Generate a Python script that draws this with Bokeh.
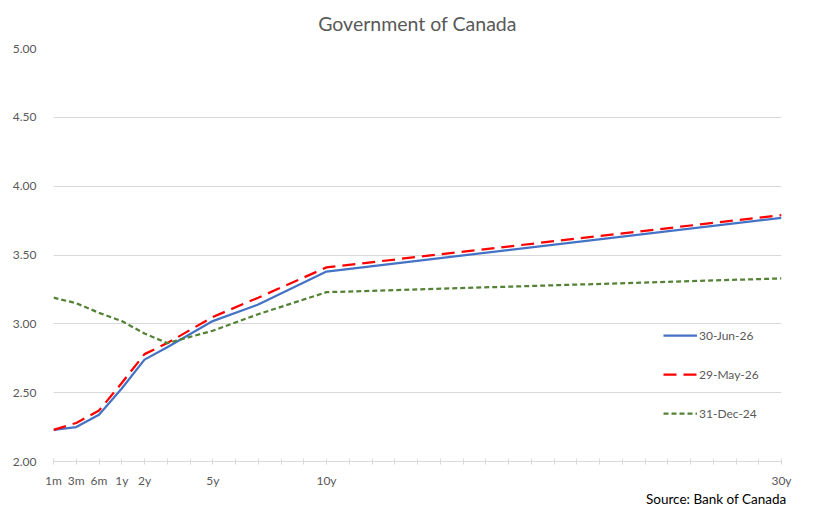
from bokeh.plotting import figure
from bokeh.models import (Range1d, FixedTicker, PrintfTickFormatter, Legend, LegendItem, Title)
from bokeh.embed import file_html
from bokeh.resources import INLINE

# Axis categories (Excel-style category axis: 1m, 3m, 6m, then every year to 30y)
categories = ["1m", "3m", "6m"] + [f"{y}y" for y in range(1, 31)]
shown_labels = ["1m", "3m", "6m", "1y", "2y", "5y", "10y", "30y"]

# Tenors with data
tenors = ["1m", "3m", "6m", "1y", "2y", "3y", "5y", "7y", "10y", "30y"]
jun30_26 = [2.23, 2.25, 2.34, 2.53, 2.74, 2.83, 3.02, 3.14, 3.38, 3.77]
may29_26 = [2.23, 2.28, 2.37, 2.57, 2.78, 2.86, 3.05, 3.19, 3.41, 3.79]
dec31_24 = [3.19, 3.15, 3.08, 3.02, 2.93, 2.86, 2.95, 3.07, 3.23, 3.33]

y_ticks = [2.0, 2.5, 3.0, 3.5, 4.0, 4.5, 5.0]

FONT = "Lato"
GRAY = "#595959"

xs = [categories.index(t) for t in tenors]

p = figure(width=817, height=513, output_backend="svg", toolbar_location=None,
           x_range=Range1d(0, len(categories) - 1), y_range=Range1d(2.0, 5.0),
           min_border_left=53, min_border_right=36, min_border_top=47, min_border_bottom=52)

p.title.text = "Government of Canada"
p.title.align = "center"
p.title.vertical_align = "top"
p.title.text_font = FONT
p.title.text_font_style = "normal"
p.title.text_font_size = "19.5px"
p.title.text_color = GRAY
p.title.text_line_height = 1.0
p.title.standoff = 23
p.outline_line_color = None

r1 = p.line(xs, jun30_26, line_color="#4472C4", line_width=2.25)
r2 = p.line(xs, may29_26, line_color="#FF0000", line_width=2.25, line_dash="13 7")
r3 = p.line(xs, dec31_24, line_color="#548235", line_width=2.25, line_dash="5 3")

# axes
p.xaxis.ticker = FixedTicker(ticks=list(range(len(categories))), minor_ticks=[])
p.xaxis.major_label_overrides = {i: (c if c in shown_labels else "") for i, c in enumerate(categories)}
p.xaxis.axis_line_color = "#d9d9d9"
p.xaxis.major_tick_line_color = "#d9d9d9"
p.xaxis.major_tick_in = 3
p.xaxis.major_tick_out = 3
p.xaxis.minor_tick_line_color = None
p.xaxis.major_label_text_font = FONT
p.xaxis.major_label_text_font_size = "12px"
p.xaxis.major_label_text_color = GRAY
p.xaxis.major_label_standoff = 8

p.yaxis.ticker = FixedTicker(ticks=y_ticks, minor_ticks=[])
p.yaxis.formatter = PrintfTickFormatter(format="%.2f")
p.yaxis.axis_line_color = None
p.yaxis.major_tick_line_color = None
p.yaxis.minor_tick_line_color = None
p.yaxis.major_label_text_font = FONT
p.yaxis.major_label_text_font_size = "12px"
p.yaxis.major_label_text_color = GRAY
p.yaxis.major_label_standoff = 11

p.xgrid.grid_line_color = None
p.ygrid.grid_line_color = "#d9d9d9"
p.ygrid.ticker = FixedTicker(ticks=y_ticks)

legend = Legend(items=[
    LegendItem(label="30-Jun-26", renderers=[r1]),
    LegendItem(label="29-May-26", renderers=[r2]),
    LegendItem(label="31-Dec-24", renderers=[r3]),
], location=(610, 38), orientation="vertical")
legend.glyph_width = 34
legend.glyph_height = 20
legend.label_height = 20
legend.spacing = 19
legend.padding = 0
legend.margin = 0
legend.label_standoff = 2
legend.border_line_color = None
legend.background_fill_alpha = 0
legend.label_text_font = FONT
legend.label_text_font_size = "12px"
legend.label_text_color = GRAY
p.add_layout(legend, "center")

src = Title(text="Source: Bank of Canada", align="right", text_font=FONT,
            text_font_size="13.5px", text_font_style="normal", text_color="#000000",
            standoff=-4, offset=-5)
p.add_layout(src, "below")

open("out.html", "w").write(file_html(p, INLINE))
